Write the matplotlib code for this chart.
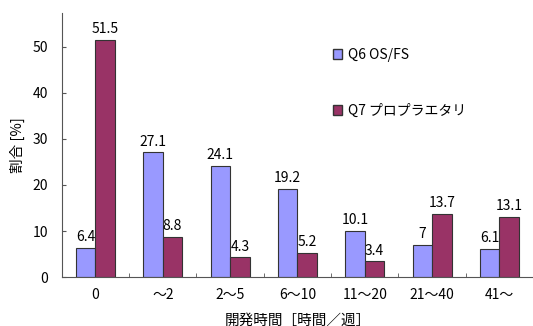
import numpy as np
import matplotlib
matplotlib.use('Agg')
import matplotlib.pyplot as plt
from matplotlib.patches import Patch

plt.rcParams['font.family'] = ['Noto Sans CJK JP', 'DejaVu Sans']

# Data
categories = ['0', '～2', '2～5', '6～10', '11～20', '21～40', '41～']
q6_values = [6.4, 27.1, 24.1, 19.2, 10.1, 7, 6.1]
q7_values = [51.5, 8.8, 4.3, 5.2, 3.4, 13.7, 13.1]
series_names = ['Q6 OS/FS', 'Q7 プロプラエタリ']
q6_color = '#9999FF'
q7_color = '#993366'

fig = plt.figure(figsize=(5.33, 3.26), dpi=100)
ax = fig.add_axes([0.116, 0.150, 0.884, 0.81])

x = np.arange(len(categories))
w = 0.29
b1 = ax.bar(x - w / 2, q6_values, w, color=q6_color, edgecolor='#333333', linewidth=0.8)
b2 = ax.bar(x + w / 2, q7_values, w, color=q7_color, edgecolor='#333333', linewidth=0.8)

for rect, v in zip(b1, q6_values):
    ax.text(rect.get_x() + rect.get_width() / 2, v + 0.8, f'{v:g}',
            ha='center', va='bottom', fontsize=10)
for rect, v in zip(b2, q7_values):
    ax.text(rect.get_x() + rect.get_width() / 2, v + 0.8, f'{v:g}',
            ha='center', va='bottom', fontsize=10)

ax.set_xlim(-0.5, len(categories) - 0.5)
ax.set_ylim(0, 57.3)
ax.set_yticks([0, 10, 20, 30, 40, 50])
ax.set_xticks(x)
ax.set_xticklabels(categories, fontsize=10)
ax.set_xticks(np.arange(0.5, len(categories) - 0.5, 1), minor=True)
ax.tick_params(axis='x', which='major', length=0, pad=8)
ax.tick_params(axis='x', which='minor', direction='in', length=3, color='#555555')
ax.tick_params(axis='y', direction='in', length=3, labelsize=10, pad=10, color='#555555')

for s in ['top', 'right']:
    ax.spines[s].set_visible(False)
ax.spines['left'].set_color('#555555')
ax.spines['bottom'].set_color('#555555')

ax.set_ylabel('割合 [%]', fontsize=10.5, labelpad=5)
ax.set_xlabel('開発時間［時間／週］', fontsize=10.5, labelpad=8)

handles = [Patch(facecolor=q6_color, edgecolor='#333333'),
           Patch(facecolor=q7_color, edgecolor='#333333')]
ax.legend(handles, series_names, loc='upper left', bbox_to_anchor=(0.548, 0.915),
          frameon=False, fontsize=10, labelspacing=3.0,
          handlelength=0.7, handleheight=0.7, handletextpad=0.4)

plt.savefig('out.png', dpi=100)
